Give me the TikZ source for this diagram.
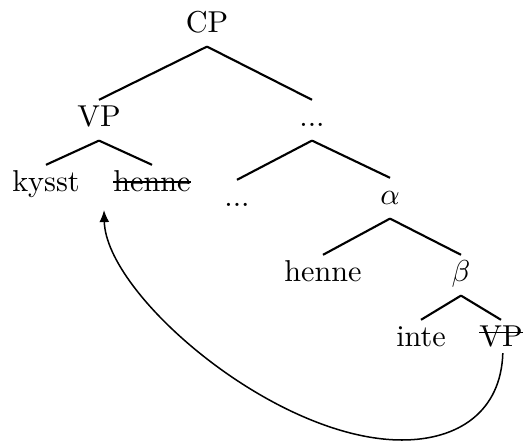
\documentclass[tikz,border=0pt]{standalone}
\usetikzlibrary{arrows.meta}
\newcommand{\strikeat}[2]{\begingroup\setbox0\hbox{#2}\rlap{\raisebox{#1}{\rule{\wd0}{0.55pt}}}\box0\endgroup}
\begin{document}
\begin{tikzpicture}[x=0.331pt,y=-0.331pt,
  lbl/.style={anchor=base, inner sep=2pt, outer sep=0pt, text height=7pt, text depth=2.5pt},
  edge/.style={line width=0.7pt},
  move/.style={line width=0.5pt, -{Latex[length=4pt,width=3.3pt]}}]
\useasboundingbox (0,0) rectangle (525,442);
\node[lbl] (cp) at (207,33) {CP};
\node[lbl] (vp) at (99,127) {VP};
\node[lbl] (d1) at (312,127) {...};
\node[lbl] (kysst) at (46,192) {kysst};
\node[lbl] (henne1) at (152,192) {\strikeat{3pt}{henne}};
\node[lbl] (d2) at (237,207) {...};
\node[lbl] (alpha) at (390,205) {$\alpha$};
\node[lbl] (henne2) at (323,282) {henne};
\node[lbl] (beta) at (461,282) {$\beta$};
\node[lbl] (inte) at (421,347) {inte};
\node[lbl] (vp2) at (501,347) {\strikeat{4.5pt}{VP}};
\draw[edge] (cp.south) -- (vp.north);
\draw[edge] (cp.south) -- (d1.north);
\draw[edge] (vp.south) -- (kysst.north);
\draw[edge] (vp.south) -- (henne1.north);
\draw[edge] (d1.south) -- (d2.north);
\draw[edge] (d1.south) -- (alpha.north);
\draw[edge] (alpha.south) -- (henne2.north);
\draw[edge] (alpha.south) -- (beta.north);
\draw[edge] (beta.south) -- (inte.north);
\draw[edge] (beta.south) -- (vp2.north);
\coordinate (bot) at (402,440);
\coordinate (tgt) at (104,210);
\draw[move] ([xshift=0.6pt,yshift=2.5pt]vp2.south) .. controls (501,412) and (458,440) .. (bot) .. controls (275,440) and (106,295) .. (tgt);
\end{tikzpicture}
\end{document}
